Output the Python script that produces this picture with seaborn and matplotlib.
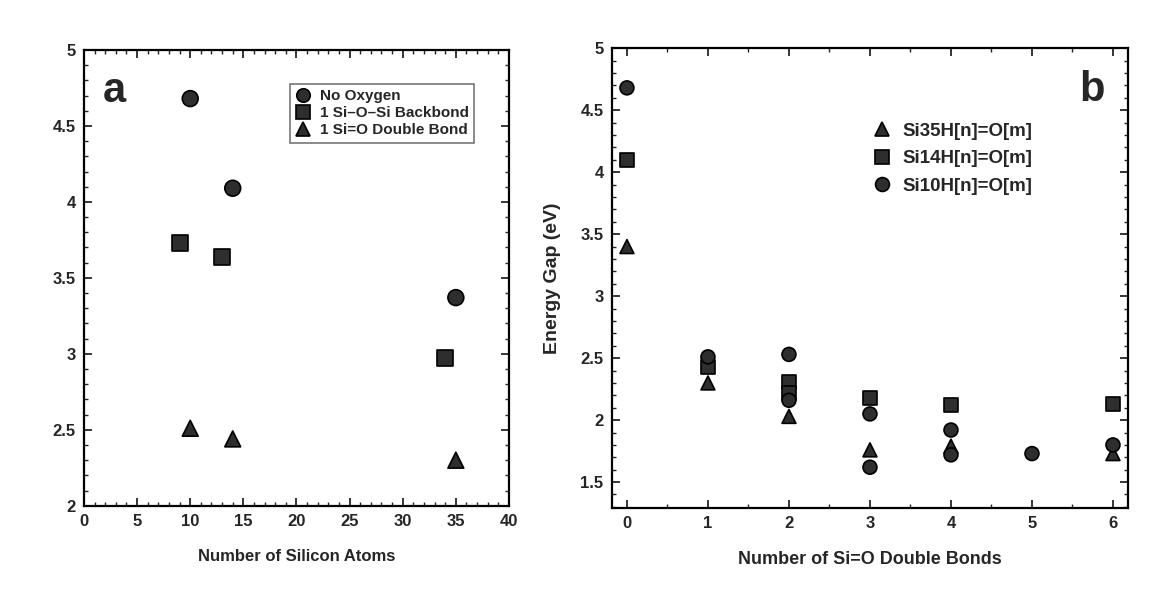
import matplotlib
matplotlib.use("Agg")
import matplotlib.pyplot as plt
from matplotlib.ticker import MultipleLocator
import seaborn as sns
import pandas as pd

# ---- Panel a data ----
a_labels = ["No Oxygen", "1 Si\u2013O\u2013Si Backbond", "1 Si=O Double Bond"]
a_noox_x = [10, 14, 35]
a_noox_y = [4.68, 4.09, 3.37]
a_back_x = [9, 13, 34]
a_back_y = [3.73, 3.64, 2.97]
a_dbl_x = [10, 14, 35]
a_dbl_y = [2.51, 2.44, 2.30]

# ---- Panel b data ----
b_labels = ["Si35H[n]=O[m]", "Si14H[n]=O[m]", "Si10H[n]=O[m]"]
b_si35_x = [0, 1, 2, 3, 4, 6]
b_si35_y = [3.40, 2.30, 2.03, 1.76, 1.79, 1.73]
b_si14_x = [0, 1, 2, 2, 3, 4, 6]
b_si14_y = [4.10, 2.43, 2.31, 2.22, 2.18, 2.12, 2.13]
b_si10_x = [0, 1, 2, 2, 3, 3, 4, 4, 5, 6]
b_si10_y = [4.68, 2.51, 2.53, 2.16, 2.05, 1.62, 1.92, 1.72, 1.73, 1.80]

sns.set_style("ticks")
plt.rcParams["font.family"] = ["Liberation Sans", "DejaVu Sans"]
plt.rcParams["font.weight"] = "bold"
plt.rcParams["axes.labelweight"] = "bold"
plt.rcParams["xtick.direction"] = "in"
plt.rcParams["ytick.direction"] = "in"
plt.rcParams["xtick.top"] = True
plt.rcParams["ytick.right"] = True

fig = plt.figure(figsize=(11.73, 5.95), dpi=100)
ax1 = fig.add_axes([0.0716, 0.150, 0.3623, 0.766])
ax2 = fig.add_axes([0.5217, 0.146, 0.4399, 0.773])

face = "#2e2e2e"
edge = "black"

df_a = pd.DataFrame({
    "x": a_noox_x + a_back_x + a_dbl_x,
    "y": a_noox_y + a_back_y + a_dbl_y,
    "kind": [a_labels[0]] * len(a_noox_x) + [a_labels[1]] * len(a_back_x) + [a_labels[2]] * len(a_dbl_x),
})
sns.scatterplot(data=df_a, x="x", y="y", style="kind", style_order=a_labels,
                markers={a_labels[0]: "o", a_labels[1]: "s", a_labels[2]: "^"},
                color=face, edgecolor=edge, linewidth=1.2, s=130, ax=ax1)

df_b = pd.DataFrame({
    "x": b_si35_x + b_si14_x + b_si10_x,
    "y": b_si35_y + b_si14_y + b_si10_y,
    "kind": [b_labels[0]] * len(b_si35_x) + [b_labels[1]] * len(b_si14_x) + [b_labels[2]] * len(b_si10_x),
})
sns.scatterplot(data=df_b, x="x", y="y", style="kind", style_order=b_labels,
                markers={b_labels[0]: "^", b_labels[1]: "s", b_labels[2]: "o"},
                color=face, edgecolor=edge, linewidth=1.2, s=100, ax=ax2)

# Axis a
ax1.set_xlim(0, 40)
ax1.set_ylim(2, 5)
ax1.xaxis.set_minor_locator(MultipleLocator(1))
ax1.yaxis.set_minor_locator(MultipleLocator(0.1))
ax1.set_xticks([0, 5, 10, 15, 20, 25, 30, 35, 40])
ax1.set_xticklabels(["0", "5", "10", "15", "20", "25", "30", "35", "40"])
ax1.set_yticks([2, 2.5, 3, 3.5, 4, 4.5, 5])
ax1.set_yticklabels(["2", "2.5", "3", "3.5", "4", "4.5", "5"])
ax1.set_xlabel("Number of Silicon Atoms", fontsize=12, labelpad=14)
ax1.set_ylabel("")
ax1.text(0.045, 0.91, "a", transform=ax1.transAxes, fontsize=30,
         fontweight="bold", va="center", ha="left")
leg1 = ax1.legend(loc="upper right", bbox_to_anchor=(0.918, 0.926), frameon=True,
                  fancybox=False, edgecolor="#555555", fontsize=11,
                  handlelength=1.0, handletextpad=0.6, borderpad=0.35,
                  borderaxespad=0.0, labelspacing=0.2, markerscale=0.85)
leg1.get_frame().set_linewidth(1.2)

# Axis b
ax2.set_xlim(-0.185, 6.185)
ax2.set_ylim(1.29, 5.0)
ax2.set_xticks([0, 1, 2, 3, 4, 5, 6])
ax2.xaxis.set_minor_locator(MultipleLocator(0.5))
ax2.yaxis.set_minor_locator(MultipleLocator(0.1))
ax2.set_yticks([1.5, 2, 2.5, 3, 3.5, 4, 4.5, 5])
ax2.set_yticklabels(["1.5", "2", "2.5", "3", "3.5", "4", "4.5", "5"])
ax2.set_xlabel("Number of Si=O Double Bonds", fontsize=13, labelpad=14)
ax2.set_ylabel("Energy Gap (eV)", fontsize=14, labelpad=14)
ax2.text(0.93, 0.91, "b", transform=ax2.transAxes, fontsize=30,
         fontweight="bold", va="center", ha="center")
ax2.legend(loc="upper left", bbox_to_anchor=(0.505, 0.838), frameon=False,
           fontsize=13.5, handlelength=1.0, handletextpad=0.6, borderpad=0.0,
           borderaxespad=0.0, labelspacing=0.55, markerscale=1.0)

for ax in (ax1, ax2):
    for sp in ax.spines.values():
        sp.set_visible(True)
        sp.set_linewidth(1.6)
        sp.set_color("black")
    ax.tick_params(which="major", length=6, width=1.3, labelsize=12, pad=6)
    ax.tick_params(which="minor", length=3, width=1.0)
    for lbl in ax.get_xticklabels() + ax.get_yticklabels():
        lbl.set_fontweight("bold")

fig.savefig("out.png", dpi=100, facecolor="white")
